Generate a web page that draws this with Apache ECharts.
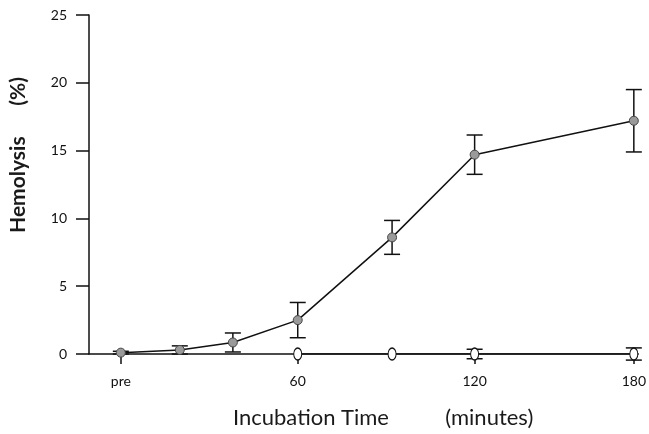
<!DOCTYPE html>
<html><head><meta charset="utf-8">
<script src="https://cdn.jsdelivr.net/npm/echarts@6/dist/echarts.min.js"></script>
<style>html,body{margin:0;padding:0;background:#fff}#c{width:649px;height:434px}</style>
</head><body><div id="c"></div>
<script>
// x positions on the drawn time axis (the original axis is not evenly spaced; 180 min sits at ~174)
const tickPos = [0, 60, 120, 174];
const tickLabels = ['pre', '60', '120', '180'];
const treatedX = [0, 20, 38, 60, 92, 120, 174];
const treatedY = [0.1, 0.3, 0.85, 2.5, 8.6, 14.7, 17.2];
const treatedErr = [0.1, 0.3, 0.7, 1.3, 1.25, 1.45, 2.3];
const controlX = [60, 92, 120, 174];
const controlY = [0, 0, 0, 0];
const controlErr = [0, 0, 0.35, 0.45];

const labelMap = {};
tickPos.forEach((p, i) => labelMap[p] = tickLabels[i]);

function errSeries(xs, ys, es, cap) {
  return {
    type: 'custom', z: 1, silent: true,
    data: xs.map((x, i) => [x, ys[i] - es[i], ys[i] + es[i]]),
    renderItem: function (params, api) {
      if (api.value(2) - api.value(1) <= 0) return;
      const lo = api.coord([api.value(0), api.value(1)]);
      const hi = api.coord([api.value(0), api.value(2)]);
      const st = { stroke: '#111', lineWidth: 1.5 };
      return { type: 'group', children: [
        { type: 'line', shape: { x1: lo[0], y1: lo[1], x2: hi[0], y2: hi[1] }, style: st },
        { type: 'line', shape: { x1: lo[0] - cap, y1: lo[1], x2: lo[0] + cap, y2: lo[1] }, style: st },
        { type: 'line', shape: { x1: hi[0] - cap, y1: hi[1], x2: hi[0] + cap, y2: hi[1] }, style: st }
      ]};
    }
  };
}

const chart = echarts.init(document.getElementById('c'), null, { renderer: 'canvas' });
chart.setOption({
  animation: false,
  textStyle: { fontFamily: 'Lato' },
  grid: { left: 88, right: 9, top: 15, bottom: 77 },
  xAxis: {
    type: 'value', min: -10.8, max: 175.5,
    name: 'Incubation Time          (minutes)', nameLocation: 'middle', nameGap: 53,
    nameTextStyle: { fontSize: 22, color: '#1a1a1a', fontFamily: 'Lato', padding: [0, 0, 0, 39] },
    axisLine: { onZero: false, lineStyle: { color: '#111', width: 1.5 } },
    axisTick: { show: true, length: 10, customValues: tickPos, lineStyle: { color: '#111', width: 1.5 } },
    axisLabel: { customValues: tickPos, formatter: v => labelMap[v] ?? '', fontSize: 14, color: '#111', margin: 20 },
    splitLine: { show: false }
  },
  yAxis: {
    type: 'value', min: 0, max: 25, interval: 5,
    name: 'Hemolysis      (%)', nameLocation: 'middle', nameGap: 60,
    nameTextStyle: { fontSize: 21, fontWeight: 'bold', color: '#1a1a1a', fontFamily: 'Lato', padding: [0, 0, 0, 59] },
    axisLine: { show: true, onZero: false, lineStyle: { color: '#111', width: 1.5 } },
    axisTick: { show: true, length: 13, lineStyle: { color: '#111', width: 1.5 } },
    axisLabel: { fontSize: 14, color: '#111', margin: 22 },
    splitLine: { show: false }
  },
  series: [
    errSeries(controlX, controlY, controlErr, 8),
    {
      type: 'line', z: 2, data: controlX.map((x, i) => [x, controlY[i]]),
      symbol: 'circle', symbolSize: [8, 12], showAllSymbol: true,
      lineStyle: { color: '#111', width: 1.5 },
      itemStyle: { color: '#fff', borderColor: '#111', borderWidth: 1.2 }
    },
    errSeries(treatedX, treatedY, treatedErr, 8),
    {
      type: 'line', z: 3, data: treatedX.map((x, i) => [x, treatedY[i]]),
      symbol: 'circle', symbolSize: 9, showAllSymbol: true,
      lineStyle: { color: '#111', width: 1.5 },
      itemStyle: { color: '#9a9a9a', borderColor: '#444', borderWidth: 1 }
    }
  ]
});
</script></body></html>
